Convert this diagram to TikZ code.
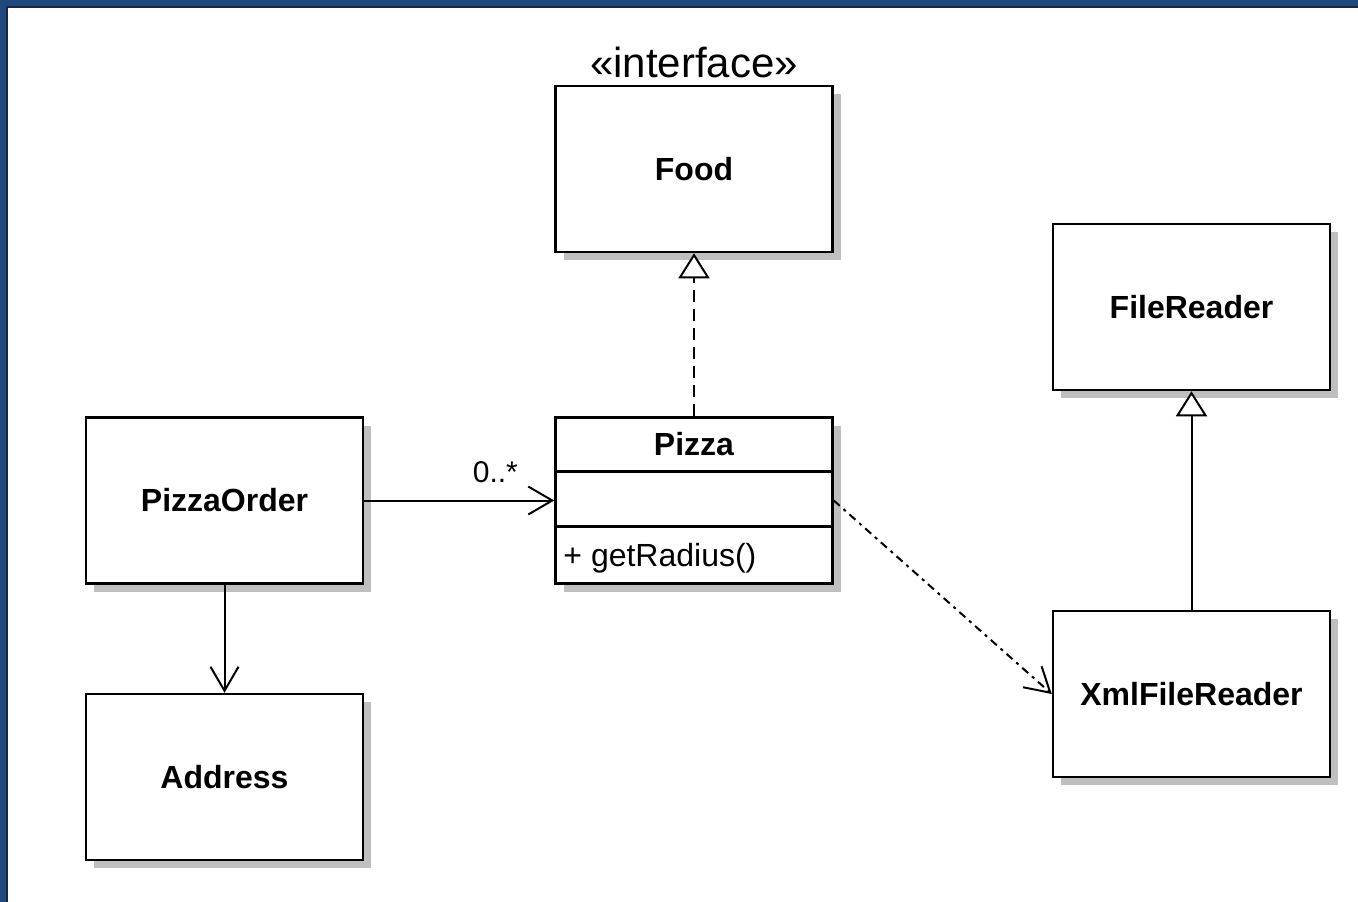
\documentclass[tikz,border=0pt]{standalone}
\usepackage{fontspec}
\setmainfont{Liberation Sans}
\usetikzlibrary{arrows.meta,shadows,calc}

\definecolor{frameblue}{RGB}{31,73,125}
\definecolor{framedark}{RGB}{20,40,70}

\begin{document}
\begin{tikzpicture}[x=1pt, y=-1pt,
    box/.style={rectangle, draw=black, line width=2.5pt, fill=white, minimum width=277pt, minimum height=166pt, font=\fontsize{32}{38}\selectfont\bfseries, drop shadow={shadow xshift=8pt, shadow yshift=-8pt, fill=black!25, opacity=1}},
    assoc/.style={-{Straight Barb[length=24pt, width=28pt, line width=2pt]}, line width=2pt},
    realize/.style={-{Triangle[open, length=25pt, width=31pt, line width=2pt, fill=white]}, line width=2pt, dash pattern=on 12pt off 7pt},
    inherit/.style={-{Triangle[open, length=25pt, width=31pt, line width=2pt, fill=white]}, line width=2pt},
    depend/.style={-{Straight Barb[length=24pt, width=28pt, line width=2pt]}, line width=2pt, dash pattern=on 8pt off 5pt on 3pt off 5pt}
]
    % Background and frame
    \fill[white] (0,0) rectangle (1358,902);
    \useasboundingbox (0,0) rectangle (1358,902);
    \fill[frameblue] (0,0) rectangle (1358,7);
    \fill[frameblue] (0,0) rectangle (7,902);
    \draw[framedark, line width=1.5pt] (7,902) -- (7,7) -- (1358,7);

    % Food interface
    \node[box] (food) at (694,169) {Food};
    \node[font=\fontsize{42}{48}\selectfont, inner sep=0pt] (stereo) at (694,62) {«interface»};

    % Readers
    \node[box] (reader) at (1191.5,307) {FileReader};
    \node[box] (xmlreader) at (1191.5,694) {XmlFileReader};

    % Order and address
    \node[box] (order) at (224.5,500.5) {PizzaOrder};
    \node[box] (address) at (224.5,777) {Address};

    % Pizza class
    \node[box] (pizza) at (694,500.5) {};
    \node[font=\fontsize{32}{38}\selectfont\bfseries] (pizzaname) at ($(pizza.north)+(0,28)$) {Pizza};
    \node[anchor=west, inner sep=0pt, font=\fontsize{32}{38}\selectfont] (radius) at ($(pizza.south west)+(9,-27)$) {+ getRadius()};
    \draw[line width=2.5pt] ($(pizza.north west)+(1.25,55)$) -- ($(pizza.north east)+(-1.25,55)$);
    \draw[line width=2.5pt] ($(pizza.north west)+(1.25,110)$) -- ($(pizza.north east)+(-1.25,110)$);

    % Arrows
    \draw[assoc] (order) -- node[pos=0.69, above, yshift=13pt, font=\fontsize{30}{36}\selectfont] (mult) {0..*} (pizza);
    \draw[assoc] (order) -- (address);
    \draw[realize] (pizza) -- (food);
    \draw[inherit] (xmlreader) -- (reader);
    \draw[depend] (pizza.east) -- (xmlreader.west);
\end{tikzpicture}
\end{document}
